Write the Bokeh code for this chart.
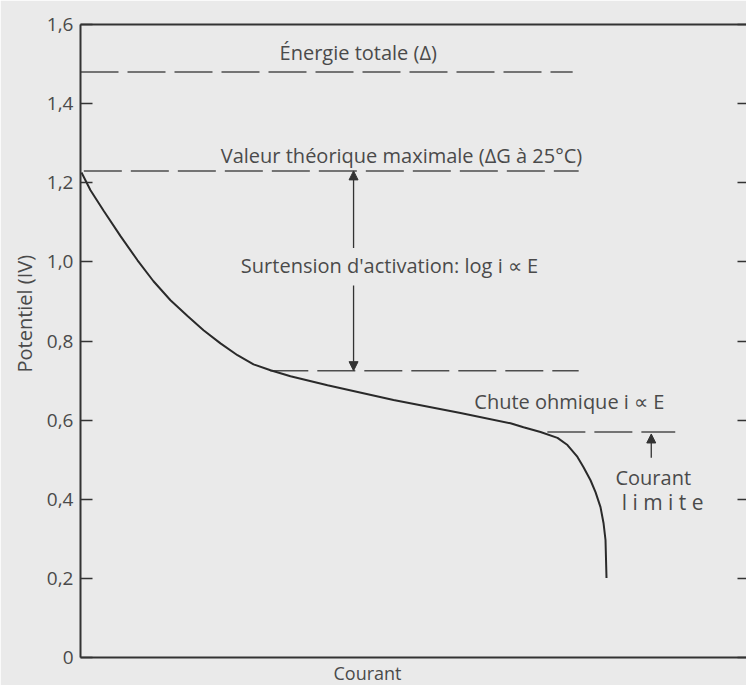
from bokeh.plotting import figure
from bokeh.models import (Range1d, FixedTicker, LinearAxis, Label, Arrow,
                          NormalHead, ColumnDataSource, Title)
from bokeh.embed import file_html
from bokeh.resources import INLINE

# ---- data ----
courant = [0.015, 0.150, 0.345, 0.601, 0.856, 1.096, 1.351, 1.607, 1.847,
           2.102, 2.357, 2.598, 2.853, 3.153, 3.709, 4.700, 5.706, 6.456,
           6.652, 6.907, 7.162, 7.312, 7.462, 7.553, 7.658, 7.733, 7.808,
           7.853, 7.883, 7.898]
potentiel = [1.226, 1.181, 1.130, 1.065, 1.004, 0.951, 0.903, 0.863, 0.827,
             0.794, 0.764, 0.741, 0.726, 0.711, 0.688, 0.651, 0.618, 0.592,
             0.582, 0.570, 0.555, 0.537, 0.507, 0.481, 0.448, 0.418, 0.380,
             0.340, 0.297, 0.201]

y_ticks = [0, 0.2, 0.4, 0.6, 0.8, 1.0, 1.2, 1.4, 1.6]
y_tick_labels = ["0", "0,2", "0,4", "0,6", "0,8", "1,0", "1,2", "1,4", "1,6"]

niveau_nom = ["energie", "theorique", "activation", "ohmique"]
niveau_val = [1.48, 1.23, 0.725, 0.57]
niveau_x0 = [0.0, 0.05, 2.85, 7.01]
niveau_x1 = [7.39, 7.48, 7.48, 8.93]

FONT = "Open Sans"
TXT = "#4a4a4a"
INK = "#333333"
BG = "#eaeaea"

p = figure(width=746, height=685, output_backend="svg", toolbar_location=None,
           x_range=Range1d(0, 10), y_range=Range1d(0, 1.6),
           min_border_left=80, min_border_right=0, min_border_top=24,
           min_border_bottom=27, x_axis_type=None, y_axis_type=None)
p.background_fill_color = BG
p.border_fill_color = BG
p.outline_line_color = None
p.xgrid.visible = False
p.ygrid.visible = False

ticker = FixedTicker(ticks=y_ticks)

yl = LinearAxis(ticker=ticker,
                major_label_overrides={t: l for t, l in zip(y_ticks, y_tick_labels)})
yl.axis_line_width = 2
yl.axis_line_color = INK
yl.major_tick_in = 12
yl.major_tick_out = 0
yl.major_tick_line_width = 1.5
yl.major_tick_line_color = INK
yl.minor_tick_line_color = None
yl.major_label_standoff = 7
yl.major_label_text_font = FONT
yl.major_label_text_font_size = "19px"
yl.major_label_text_color = TXT
p.add_layout(yl, "left")

p.add_layout(Title(text="Potentiel (IV)", align="left", offset=285,
                   standoff=12, text_font=FONT, text_font_size="20px",
                   text_font_style="normal", text_color=TXT), "left")

yr = LinearAxis(ticker=ticker,
                major_label_overrides={t: "" for t in y_ticks})
yr.axis_line_color = None
yr.major_tick_in = 9
yr.major_tick_out = 0
yr.major_tick_line_width = 1.5
yr.major_tick_line_color = INK
yr.minor_tick_line_color = None
yr.major_label_standoff = 0
p.add_layout(yr, "right")

for side in ("below", "above"):
    ax = LinearAxis(ticker=FixedTicker(ticks=[]))
    ax.axis_line_width = 2
    ax.axis_line_color = INK
    ax.major_tick_in = 0
    ax.major_tick_out = 0
    ax.minor_tick_line_color = None
    ax.major_label_standoff = 0
    p.add_layout(ax, side)

p.add_layout(Title(text="Courant", align="left", offset=253, standoff=2,
                   text_font=FONT, text_font_size="18px",
                   text_font_style="normal", text_color=TXT), "below")

# dashed levels
lev = ColumnDataSource(dict(x0=niveau_x0, x1=niveau_x1, y=niveau_val))
p.segment(x0="x0", y0="y", x1="x1", y1="y", source=lev,
          line_color="#4d4d4d", line_width=1.5, line_dash="38 9")

# curve
p.line(courant, potentiel, line_color="#2a2a2a", line_width=2)

# arrows
def head():
    return NormalHead(size=9, fill_color=INK, line_color=INK)

x_act = 4.10
p.add_layout(Arrow(end=head(), x_start=x_act, y_start=1.035, x_end=x_act,
                   y_end=niveau_val[1], line_width=1.3, line_color=INK))
p.add_layout(Arrow(end=head(), x_start=x_act, y_start=0.94, x_end=x_act,
                   y_end=niveau_val[2], line_width=1.3, line_color=INK))
x_lim = 8.57
p.add_layout(Arrow(end=head(), x_start=x_lim, y_start=0.505, x_end=x_lim,
                   y_end=niveau_val[3] - 0.005, line_width=1.3, line_color=INK))


def lab(x, y, t, size="20px"):
    p.add_layout(Label(x=x, y=y, text=t, text_align="center",
                       text_baseline="middle", text_font=FONT,
                       text_font_size=size, text_color=TXT))


lab(4.17, 1.528, "Énergie totale (Δ)")
lab(4.82, 1.268, "Valeur théorique maximale (ΔG à 25°C)")
lab(4.64, 0.990, "Surtension d'activation: log i ∝ E")
lab(7.34, 0.648, "Chute ohmique i ∝ E")
lab(8.60, 0.454, "Courant")
lab(8.74, 0.393, "l i m i t e", "21px")

open("out.html", "w").write(file_html(p, INLINE))
